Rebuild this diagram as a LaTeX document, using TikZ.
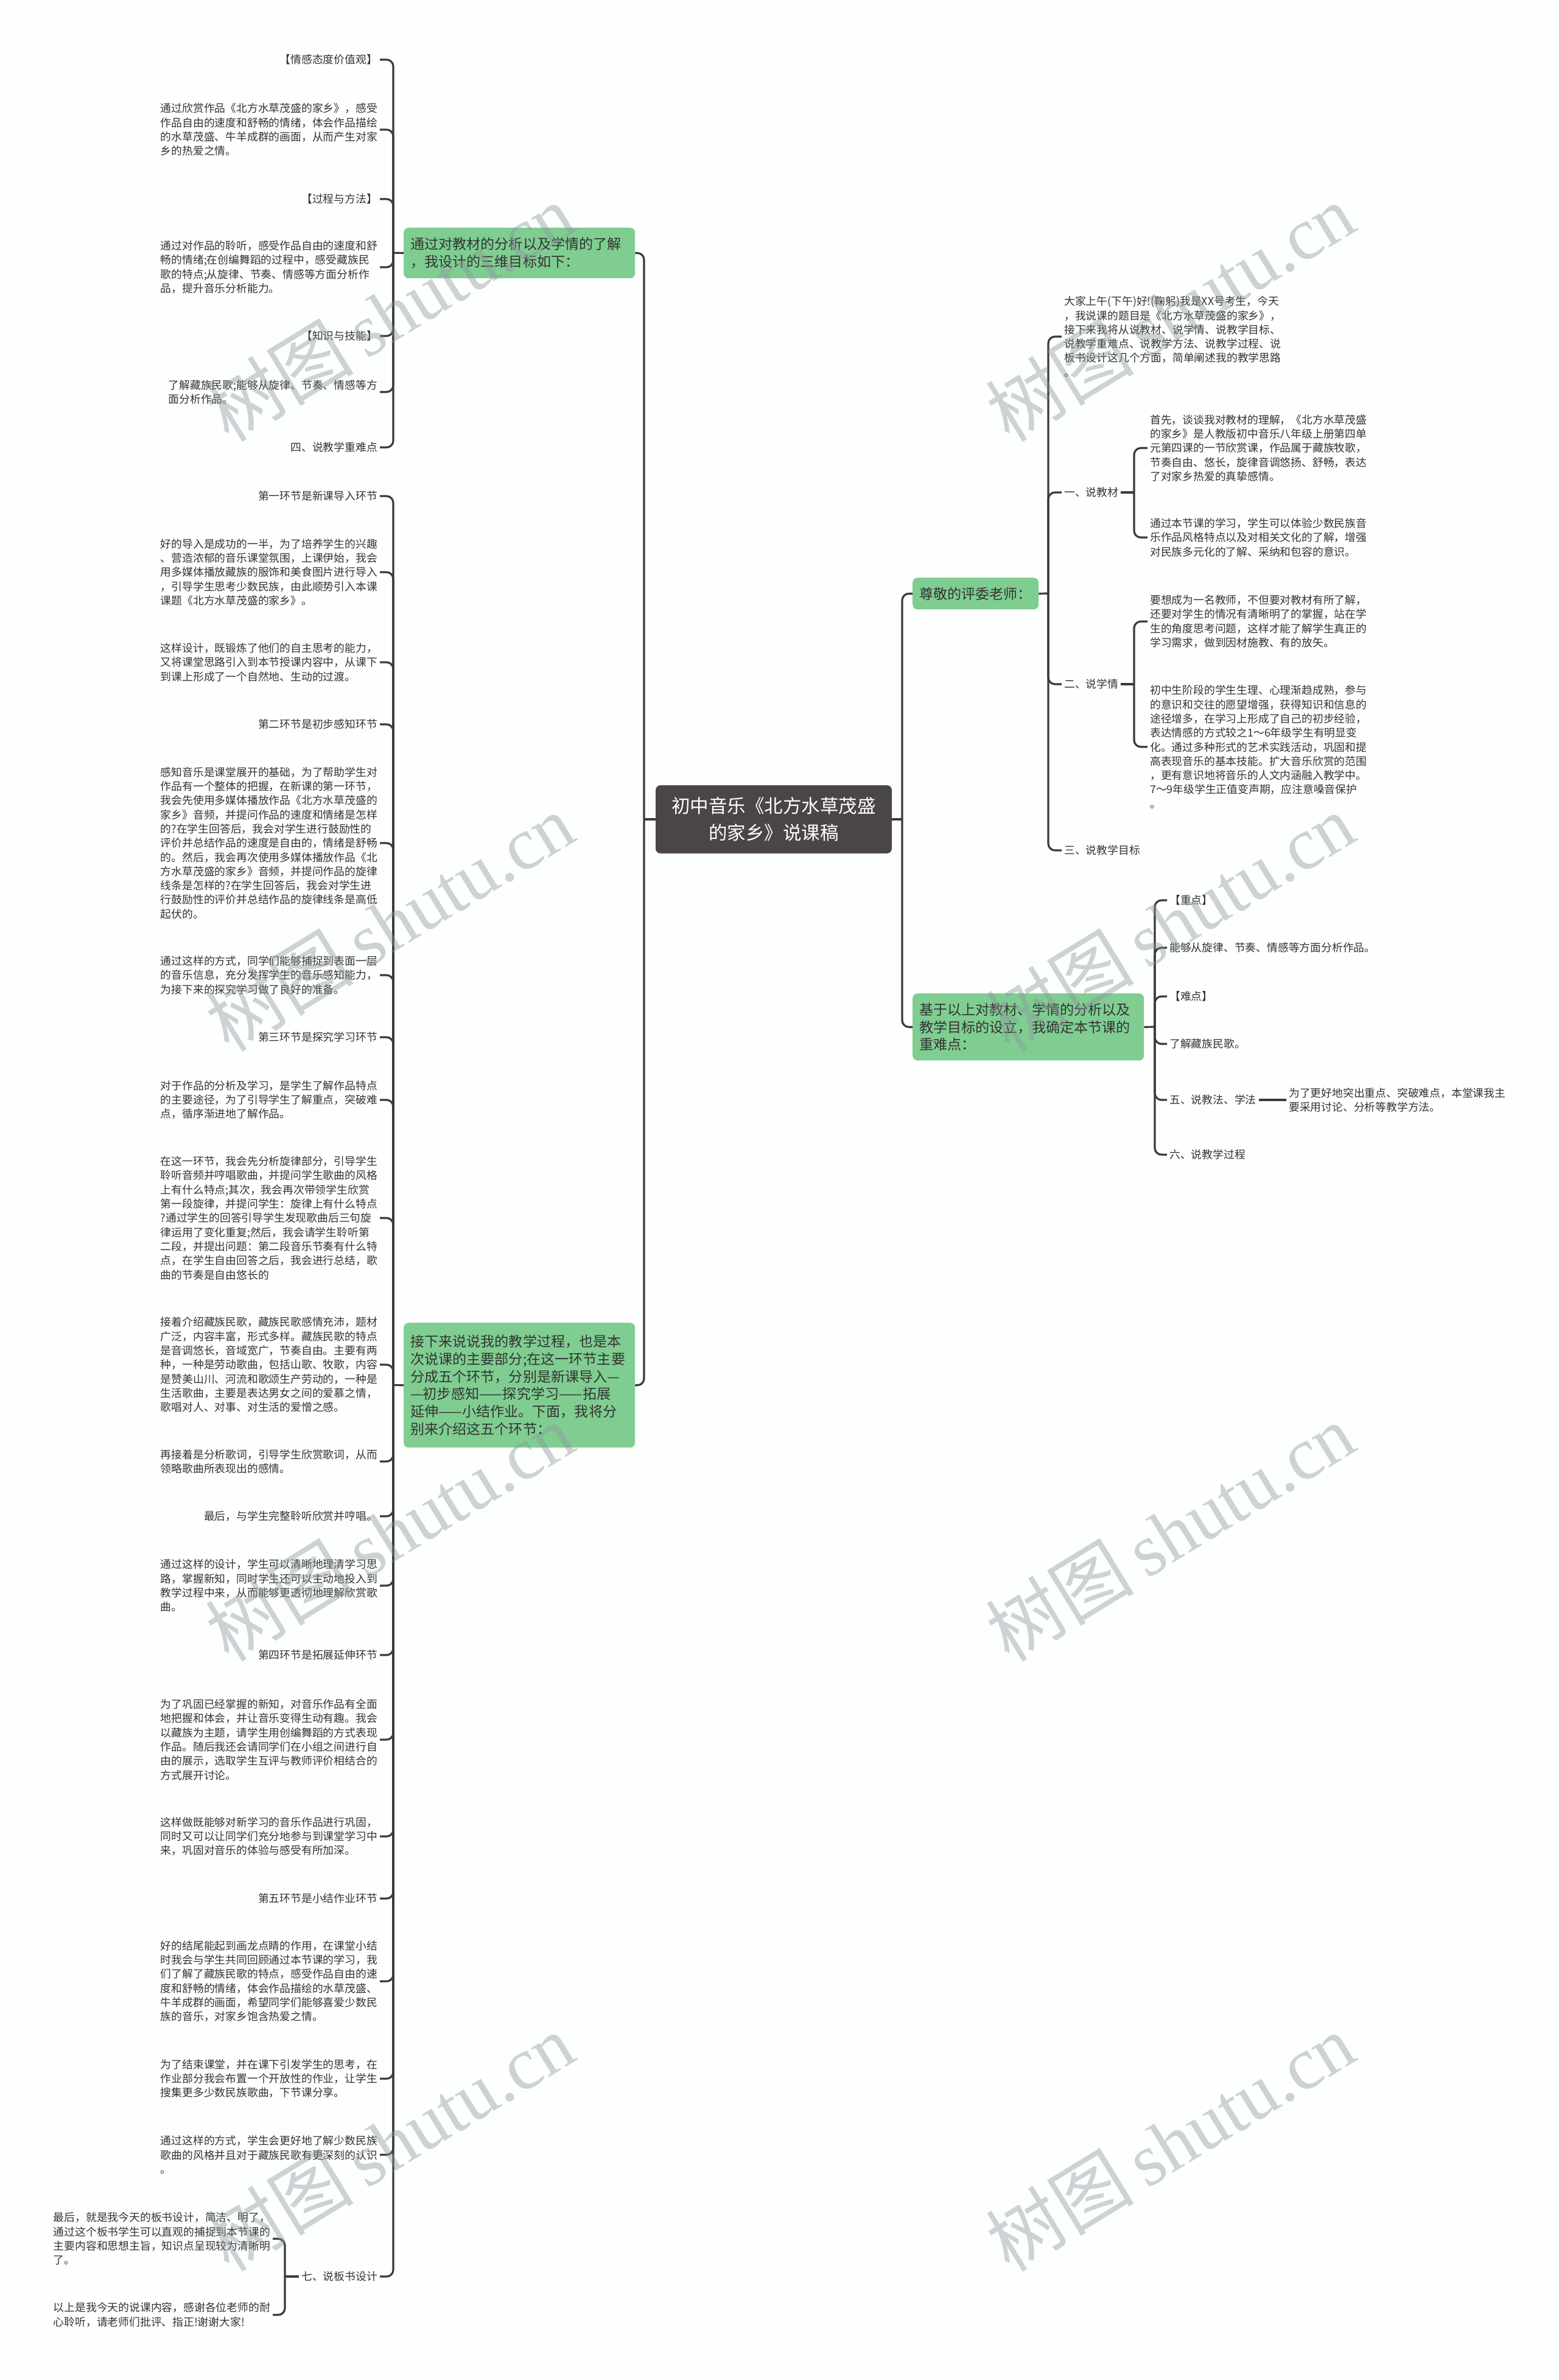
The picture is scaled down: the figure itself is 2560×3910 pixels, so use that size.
\documentclass[tikz,border=0pt]{standalone}
\usepackage{fontspec}
\setmainfont{Noto Sans CJK SC}
\newfontfamily\wmserif{Liberation Serif}
\definecolor{linec}{HTML}{3A3A3A}
\definecolor{greenc}{HTML}{7FCD91}
\definecolor{rootc}{HTML}{4B4646}
\definecolor{txtc}{HTML}{333333}
\definecolor{wmc}{RGB}{140,150,155}
\definecolor{bgc}{HTML}{FDFEFE}
\tikzset{
  conn/.style={draw=linec, line width=3.2pt, rounded corners=11pt},
  leaf/.style={inner sep=4pt, align=left, text=txtc, font=\fontsize{17.8}{23.3}\selectfont},
  leafL/.style={leaf, anchor=east},
  leafR/.style={leaf, anchor=west},
  gnode/.style={fill=greenc, rounded corners=8pt, inner sep=11pt, align=left, text=txtc, font=\fontsize{23.1}{28.8}\selectfont, anchor=north west},
  rootnode/.style={fill=rootc, rounded corners=8pt, text=white, align=center, inner sep=4pt, font=\fontsize{30.5}{44}\selectfont},
  wm/.style={text=wmc, opacity=0.42, rotate=31.5, font=\fontsize{122}{124}\selectfont},
}
\begin{document}
\begin{tikzpicture}[x=1pt,y=-1pt]
\fill[bgc] (0,0) rectangle (2560,3910);
\useasboundingbox (0,0) rectangle (2560,3910);

% root
\node[rootnode, minimum width=388pt, minimum height=112pt] (root) at (1271,1346) {初中音乐《北方水草茂盛\\的家乡》说课稿};

% main branches
\node[gnode, text width=358pt, minimum height=83pt] (g1) at (663,374) {通过对教材的分析以及学情的了解\\，我设计的三维目标如下：};
\node[gnode, text width=358pt, minimum height=205pt] (g3) at (663,2173) {接下来说说我的教学过程，也是本\\次说课的主要部分;在这一环节主要\\分成五个环节，分别是新课导入—\\—初步感知——探究学习——拓展\\延伸——小结作业。下面，我将分\\别来介绍这五个环节：};
\node[gnode, text width=185pt, minimum height=52pt] (zj) at (1499,949) {尊敬的评委老师：};
\node[gnode, text width=358pt, minimum height=110pt] (jy) at (1499,1632) {基于以上对教材、学情的分析以及\\教学目标的设立，我确定本节课的\\重难点：};

\coordinate (jl) at (1058,1346);
\coordinate (jr) at (1482,1346);
\draw[conn] (root.west) -- (jl);
\draw[conn] (jl) |- (g1.east);
\draw[conn] (jl) |- (g3.east);
\draw[conn] (root.east) -- (jr);
\draw[conn] (jr) |- (zj.west);
\draw[conn] (jr) |- (jy.west);

% group 1 (three-dimensional goals)
\node[leafL] (a1) at (624,98) {【情感态度价值观】};
\node[leafL] (a2) at (624,213) {通过欣赏作品《北方水草茂盛的家乡》，感受\\作品自由的速度和舒畅的情绪，体会作品描绘\\的水草茂盛、牛羊成群的画面，从而产生对家\\乡的热爱之情。};
\node[leafL] (a3) at (624,327) {【过程与方法】};
\node[leafL] (a4) at (624,439) {通过对作品的聆听，感受作品自由的速度和舒\\畅的情绪;在创编舞蹈的过程中，感受藏族民\\歌的特点;从旋律、节奏、情感等方面分析作\\品，提升音乐分析能力。};
\node[leafL] (a5) at (624,552) {【知识与技能】};
\node[leafL] (a6) at (624,644) {了解藏族民歌;能够从旋律、节奏、情感等方\\面分析作品。};
\node[leafL] (a7) at (624,735) {四、说教学重难点};
\coordinate (s1) at (646,415.5);
\draw[conn] (g1.west) -- (s1);
\foreach \n in {a1,a2,a3,a4,a5,a6,a7} {\draw[conn] (s1) |- (\n.east);}

% group 3 (teaching process)
\node[leafL] (b1) at (624,815) {第一环节是新课导入环节};
\node[leafL] (b2) at (624,940) {好的导入是成功的一半，为了培养学生的兴趣\\、营造浓郁的音乐课堂氛围，上课伊始，我会\\用多媒体播放藏族的服饰和美食图片进行导入\\，引导学生思考少数民族，由此顺势引入本课\\课题《北方水草茂盛的家乡》。};
\node[leafL] (b3) at (624,1088) {这样设计，既锻炼了他们的自主思考的能力，\\又将课堂思路引入到本节授课内容中，从课下\\到课上形成了一个自然地、生动的过渡。};
\node[leafL] (b4) at (624,1190) {第二环节是初步感知环节};
\node[leafL] (b5) at (624,1385) {感知音乐是课堂展开的基础，为了帮助学生对\\作品有一个整体的把握，在新课的第一环节，\\我会先使用多媒体播放作品《北方水草茂盛的\\家乡》音频，并提问作品的速度和情绪是怎样\\的?在学生回答后，我会对学生进行鼓励性的\\评价并总结作品的速度是自由的，情绪是舒畅\\的。然后，我会再次使用多媒体播放作品《北\\方水草茂盛的家乡》音频，并提问作品的旋律\\线条是怎样的?在学生回答后，我会对学生进\\行鼓励性的评价并总结作品的旋律线条是高低\\起伏的。};
\node[leafL] (b6) at (624,1602) {通过这样的方式，同学们能够捕捉到表面一层\\的音乐信息，充分发挥学生的音乐感知能力，\\为接下来的探究学习做了良好的准备。};
\node[leafL] (b7) at (624,1704) {第三环节是探究学习环节};
\node[leafL] (b8) at (624,1807) {对于作品的分析及学习，是学生了解作品特点\\的主要途径，为了引导学生了解重点，突破难\\点，循序渐进地了解作品。};
\node[leafL] (b9) at (624,2001) {在这一环节，我会先分析旋律部分，引导学生\\聆听音频并哼唱歌曲，并提问学生歌曲的风格\\上有什么特点;其次，我会再次带领学生欣赏\\第一段旋律，并提问学生：旋律上有什么特点\\?通过学生的回答引导学生发现歌曲后三句旋\\律运用了变化重复;然后，我会请学生聆听第\\二段，并提出问题：第二段音乐节奏有什么特\\点，在学生自由回答之后，我会进行总结，歌\\曲的节奏是自由悠长的};
\node[leafL] (b10) at (624,2242) {接着介绍藏族民歌，藏族民歌感情充沛，题材\\广泛，内容丰富，形式多样。藏族民歌的特点\\是音调悠长，音域宽广，节奏自由。主要有两\\种，一种是劳动歌曲，包括山歌、牧歌，内容\\是赞美山川、河流和歌颂生产劳动的，一种是\\生活歌曲，主要是表达男女之间的爱慕之情，\\歌唱对人、对事、对生活的爱憎之感。};
\node[leafL] (b11) at (624,2401) {再接着是分析歌词，引导学生欣赏歌词，从而\\领略歌曲所表现出的感情。};
\node[leafL] (b12) at (624,2491) {最后，与学生完整聆听欣赏并哼唱。};
\node[leafL] (b13) at (624,2605) {通过这样的设计，学生可以清晰地理清学习思\\路，掌握新知，同时学生还可以主动地投入到\\教学过程中来，从而能够更透彻地理解欣赏歌\\曲。};
\node[leafL] (b14) at (624,2719) {第四环节是拓展延伸环节};
\node[leafL] (b15) at (624,2858) {为了巩固已经掌握的新知，对音乐作品有全面\\地把握和体会，并让音乐变得生动有趣。我会\\以藏族为主题，请学生用创编舞蹈的方式表现\\作品。随后我还会请同学们在小组之间进行自\\由的展示，选取学生互评与教师评价相结合的\\方式展开讨论。};
\node[leafL] (b16) at (624,3017) {这样做既能够对新学习的音乐作品进行巩固，\\同时又可以让同学们充分地参与到课堂学习中\\来，巩固对音乐的体验与感受有所加深。};
\node[leafL] (b17) at (624,3119) {第五环节是小结作业环节};
\node[leafL] (b18) at (624,3255) {好的结尾能起到画龙点睛的作用，在课堂小结\\时我会与学生共同回顾通过本节课的学习，我\\们了解了藏族民歌的特点，感受作品自由的速\\度和舒畅的情绪，体会作品描绘的水草茂盛、\\牛羊成群的画面，希望同学们能够喜爱少数民\\族的音乐，对家乡饱含热爱之情。};
\node[leafL] (b19) at (624,3415) {为了结束课堂，并在课下引发学生的思考，在\\作业部分我会布置一个开放性的作业，让学生\\搜集更多少数民族歌曲，下节课分享。};
\node[leafL] (b20) at (624,3540) {通过这样的方式，学生会更好地了解少数民族\\歌曲的风格并且对于藏族民歌有更深刻的认识\\。};
\node[leafL] (b21) at (624,3740) {七、说板书设计};
\coordinate (s3) at (646,2275.5);
\draw[conn] (g3.west) -- (s3);
\foreach \n in {b1,b2,b3,b4,b5,b6,b7,b8,b9,b10,b11,b12,b13,b14,b15,b16,b17,b18,b19,b20,b21} {\draw[conn] (s3) |- (\n.east);}

\node[leafL] (c1) at (448,3678) {最后，就是我今天的板书设计，简洁、明了，\\通过这个板书学生可以直观的捕捉到本节课的\\主要内容和思想主旨，知识点呈现较为清晰明\\了。};
\node[leafL] (c2) at (448,3803) {以上是我今天的说课内容，感谢各位老师的耐\\心聆听，请老师们批评、指正!谢谢大家!};
\coordinate (s7) at (468,3740);
\draw[conn] (b21.west) -- (s7);
\draw[conn] (s7) |- (c1.east);
\draw[conn] (s7) |- (c2.east);

% right group: 尊敬的评委老师
\node[leafR] (r1) at (1744,553) {大家上午(下午)好!(鞠躬)我是XX号考生，今天\\，我说课的题目是《北方水草茂盛的家乡》，\\接下来我将从说教材、说学情、说教学目标、\\说教学重难点、说教学方法、说教学过程、说\\板书设计这几个方面，简单阐述我的教学思路\\。};
\node[leafR] (r2) at (1744,809) {一、说教材};
\node[leafR] (r3) at (1744,1124) {二、说学情};
\node[leafR] (r4) at (1744,1397) {三、说教学目标};
\coordinate (s2) at (1722,975);
\draw[conn] (zj.east) -- (s2);
\foreach \n in {r1,r2,r3,r4} {\draw[conn] (s2) |- (\n.west);}

\node[leafR] (r2a) at (1885,736) {首先，谈谈我对教材的理解，《北方水草茂盛\\的家乡》是人教版初中音乐八年级上册第四单\\元第四课的一节欣赏课，作品属于藏族牧歌，\\节奏自由、悠长，旋律音调悠扬、舒畅，表达\\了对家乡热爱的真挚感情。};
\node[leafR] (r2b) at (1885,883) {通过本节课的学习，学生可以体验少数民族音\\乐作品风格特点以及对相关文化的了解，增强\\对民族多元化的了解、采纳和包容的意识。};
\coordinate (s21) at (1863,809);
\draw[conn] (r2.east) -- (s21);
\draw[conn] (s21) |- (r2a.west);
\draw[conn] (s21) |- (r2b.west);

\node[leafR] (r3a) at (1885,1021) {要想成为一名教师，不但要对教材有所了解，\\还要对学生的情况有清晰明了的掌握，站在学\\生的角度思考问题，这样才能了解学生真正的\\学习需求，做到因材施教、有的放矢。};
\node[leafR] (r3b) at (1885,1227) {初中生阶段的学生生理、心理渐趋成熟，参与\\的意识和交往的愿望增强，获得知识和信息的\\途径增多，在学习上形成了自己的初步经验，\\表达情感的方式较之1～6年级学生有明显变\\化。通过多种形式的艺术实践活动，巩固和提\\高表现音乐的基本技能。扩大音乐欣赏的范围\\，更有意识地将音乐的人文内涵融入教学中。\\7～9年级学生正值变声期，应注意嗓音保护\\。};
\coordinate (s31) at (1863,1124);
\draw[conn] (r3.east) -- (s31);
\draw[conn] (s31) |- (r3a.west);
\draw[conn] (s31) |- (r3b.west);

% right group: 重难点
\node[leafR] (k1) at (1917,1479) {【重点】};
\node[leafR] (k2) at (1917,1557) {能够从旋律、节奏、情感等方面分析作品。};
\node[leafR] (k3) at (1917,1637) {【难点】};
\node[leafR] (k4) at (1917,1715) {了解藏族民歌。};
\node[leafR] (k5) at (1917,1807) {五、说教法、学法};
\node[leafR] (k6) at (1917,1897) {六、说教学过程};
\coordinate (s4) at (1897,1687);
\draw[conn] (jy.east) -- (s4);
\foreach \n in {k1,k2,k3,k4,k5,k6} {\draw[conn] (s4) |- (\n.west);}
\node[leafR] (k5a) at (2113,1807) {为了更好地突出重点、突破难点，本堂课我主\\要采用讨论、分析等教学方法。};
\draw[conn] (k5.east) -- (k5a.west);

% watermarks
\foreach \wx/\wy in {640/513, 1922/513, 640/1515, 1922/1515, 640/2517, 1922/2517, 640/3519, 1922/3519} {
  \node[wm] at (\wx,\wy) {树图\,{\wmserif shutu.cn}};
}
\end{tikzpicture}
\end{document}
